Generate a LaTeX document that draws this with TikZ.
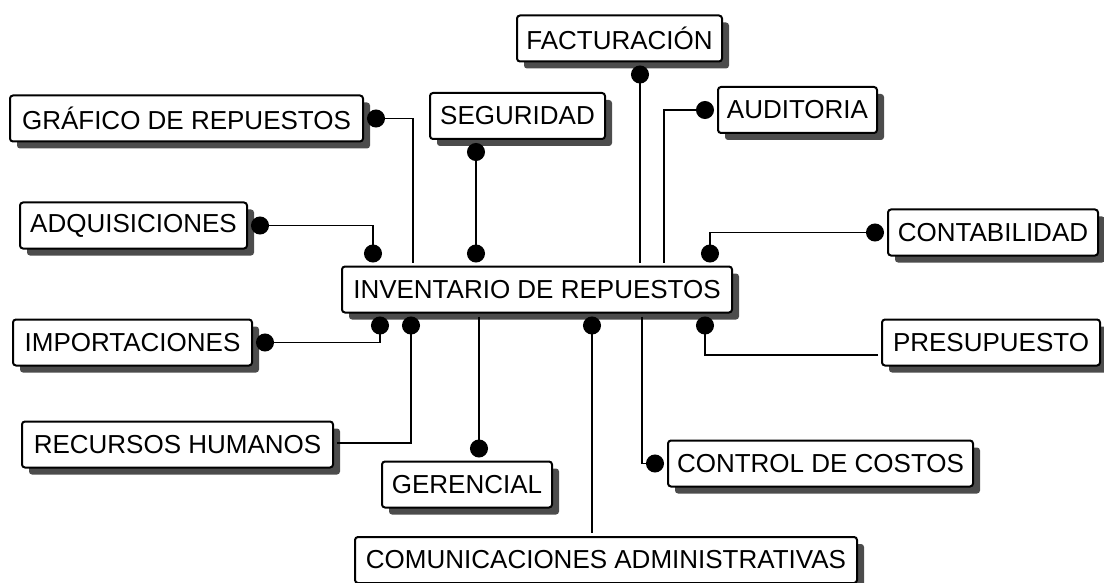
\documentclass[tikz,border=0pt]{standalone}
\usepackage{fontspec}
\setmainfont{Liberation Sans}
\usetikzlibrary{arrows.meta,shadows}

\begin{document}
\begin{tikzpicture}[x=0.5pt, y=-0.5pt, >={Circle[length=9pt]},
    modulo/.style={draw, line width=1pt, rounded corners=1.5pt, fill=white,
      drop shadow={shadow xshift=3.5pt, shadow yshift=-3.5pt, fill=black!70, opacity=1},
      minimum height=23pt, inner sep=0pt, font=\fontsize{13}{15}\selectfont},
    enlace/.style={line width=0.9pt, shorten <=1.5pt, shorten >=1.5pt}]
    \useasboundingbox (0,0) rectangle (1104,583);

    \node[modulo, minimum width=195pt] (inv) at (537,289.5) {INVENTARIO DE REPUESTOS};

    \node[modulo, minimum width=102.5pt] (fact) at (619.5,38.5) {FACTURACIÓN};
    \node[modulo, minimum width=176.5pt] (graf) at (186.5,118.5) {GRÁFICO DE REPUESTOS};
    \node[modulo, minimum width=87.5pt] (seg) at (517.5,116) {SEGURIDAD};
    \node[modulo, minimum width=79.5pt] (aud) at (797.5,110) {AUDITORIA};
    \node[modulo, minimum width=113.5pt] (adq) at (133.5,225.5) {ADQUISICIONES};
    \node[modulo, minimum width=105pt] (cont) at (993,232.5) {CONTABILIDAD};
    \node[modulo, minimum width=119.5pt] (imp) at (132.5,342.5) {IMPORTACIONES};
    \node[modulo, minimum width=109pt] (pres) at (991,342.5) {PRESUPUESTO};
    \node[modulo, minimum width=155.5pt] (rrhh) at (177.5,444.5) {RECURSOS HUMANOS};
    \node[modulo, minimum width=85pt] (ger) at (467,484.5) {GERENCIAL};
    \node[modulo, minimum width=152.5pt] (ctrl) at (820.5,463.5) {CONTROL DE COSTOS};
    \node[modulo, minimum width=251pt] (com) at (606,560) {COMUNICACIONES ADMINISTRATIVAS};

    \draw[enlace, <-] (fact.south -| 640,0) -- (inv.north -| 640,0);
    \draw[enlace, <-] (graf.east) -| (inv.north -| 413,0);
    \draw[enlace, <->] (seg.south -| 476,0) -- (inv.north -| 476,0);
    \draw[enlace, <-] (aud.west) -| (inv.north -| 664,0);
    \draw[enlace, <->] (adq.east) -| (inv.north -| 373,0);
    \draw[enlace, <->] (cont.west) -| (inv.north -| 710,0);

    \draw[enlace, <->] (imp.east) -| (inv.south -| 380,0);
    \draw[enlace, ->] (pres.west |- 0,355) -| (inv.south -| 705,0);
    \draw[enlace, ->] (rrhh.east |- 0,443) -| (inv.south -| 411,0);
    \draw[enlace, ->] (inv.south -| 479,0) -- (ger.north -| 479,0);
    \draw[enlace, ->] (inv.south -| 642,0) |- (ctrl.west);
    \draw[enlace, <-] (inv.south -| 592,0) -- (com.north -| 592,0);
\end{tikzpicture}
\end{document}
